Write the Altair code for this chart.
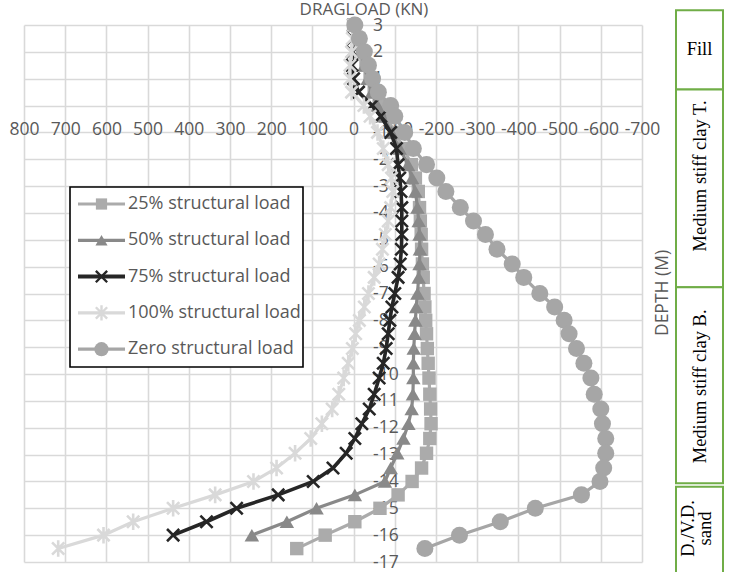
import altair as alt
import pandas as pd

# ---------------- data ----------------
depth = [3, 2.5, 2, 1.5, 1, 0.5, 0, -0.4, -1.0, -1.6, -2.2, -2.7, -3.2, -3.8, -4.3,
         -4.8, -5.35, -5.9, -6.4, -7.0, -7.5, -8.0, -8.5, -9.05, -9.6, -10.15,
         -10.75, -11.3, -11.85, -12.4, -12.95, -13.5, -14.0, -14.5, -15.0, -15.5,
         -16.0, -16.5]

load_25 = [0, -12, -22, -30, -40, -50, -62, -78, -100, -122, -140, -150, -157, -160,
           -162, -164, -165, -167, -169, -171, -173, -175, -177, -179, -181, -183,
           -185, -187, -188, -185, -177, -165, -142, -108, -64, -3, 69, 138]
load_50 = [0, -10, -18, -26, -34, -44, -58, -72, -92, -112, -132, -142, -150, -155,
           -158, -160, -161, -160, -158, -155, -152, -150, -148, -146, -145, -145,
           -144, -141, -133, -121, -106, -90, -76, -3, 90, 162, 247]
load_75 = [0, 1, 3, 4, 0, -12, -45, -66, -90, -104, -108, -112, -115, -117, -117,
           -117, -116, -113, -108, -100, -93, -88, -84, -79, -72, -62, -50, -38,
           -20, -3, 18, 50, 98, 183, 284, 357, 438]
load_100 = [0, 3, 5, 9, 9, 5, -25, -40, -58, -72, -84, -92, -95, -90, -84, -77, -70,
            -62, -50, -36, -26, -14, -5, 3, 13, 24, 36, 52, 77, 104, 142, 187, 243,
            336, 438, 535, 607, 717]
load_zero = [-3, -14, -26, -36, -46, -60, -90, -100, -124, -145, -177, -202, -224,
             -259, -291, -320, -348, -385, -413, -452, -488, -511, -523, -541, -559,
             -576, -584, -600, -604, -612, -612, -607, -598, -553, -441, -356, -257,
             -173]

series_names = ["25% structural load", "50% structural load", "75% structural load",
                "100% structural load", "Zero structural load"]
series_loads = [load_25, load_50, load_75, load_100, load_zero]

x_ticks = list(range(-700, 801, 100))
y_ticks = list(range(-17, 4))

layer_names = ["Fill", "Medium stiff clay T.", "Medium stiff clay B.", "D./V.D.\nsand"]
layer_top = [3.55, 0.6, -6.77, -14.2]
layer_bottom = [0.6, -6.77, -14.07, -17.5]
layer_label_depth = [2.1, -2.62, -10.46, -15.75]
layer_label_angle = [0, 270, 270, 270]

# ---------------- styles ----------------
X_PATH = "M-1,-1L1,1M-1,1L1,-1"
STAR_PATH = "M-1,-1L1,1M-1,1L1,-1M0,-1.35L0,1.35"
styles = [
    dict(color="#ababab", shape="square", filled=True, size=180, lw=3.2),
    dict(color="#898989", shape="triangle-up", filled=True, size=210, lw=3.2),
    dict(color="#262626", shape=X_PATH, filled=False, size=150, lw=3.6),
    dict(color="#d9d9d9", shape=STAR_PATH, filled=False, size=150, lw=3.2),
    dict(color="#a6a6a6", shape="circle", filled=True, size=290, lw=3.2),
]

W, H = 618, 537
GRID = "#d9d9d9"
TXT = "#595959"
FONT = "Open Sans"

xscale = alt.Scale(domain=[-700, 800], reverse=True, nice=False, zero=False)
yscale = alt.Scale(domain=[-17, 3], nice=False, zero=False)
x0_px = (800 - 0) / 1500 * W
y0_px = (3 - 0) / 20 * H

xaxis = alt.Axis(values=x_ticks, orient="bottom", offset=-(H - y0_px), labelPadding=15,
                 domain=False, ticks=False, grid=True, gridColor=GRID, gridWidth=1.6,
                 labelFont=FONT, labelFontSize=17.5, labelColor=TXT,
                 labelExpr="'' + datum.value", labelFlush=False, labelOverlap=False,
                 title=None)
yaxis = alt.Axis(values=y_ticks, orient="right", offset=-(W - x0_px), labelPadding=19,
                 labelAlign="left", labelBaseline="middle",
                 domain=False, ticks=False, grid=True, gridColor=GRID, gridWidth=1.6,
                 labelFont=FONT, labelFontSize=17.5, labelColor=TXT,
                 labelExpr="'' + datum.value", labelFlush=False, labelOverlap=False,
                 title=None)

rows = []
for name, loads in zip(series_names, series_loads):
    for i, v in enumerate(loads):
        rows.append({"series": name, "i": i, "depth": depth[i], "load": v})
df = pd.DataFrame(rows)

layers = []
for name, st in zip(series_names, styles):
    base = alt.Chart(df).transform_filter(alt.datum.series == name).encode(
        x=alt.X("load:Q", scale=xscale, axis=xaxis),
        y=alt.Y("depth:Q", scale=yscale, axis=yaxis),
        order=alt.Order("i:Q"),
    )
    line = base.mark_line(color=st["color"], strokeWidth=st["lw"])
    if st["filled"]:
        pts = base.mark_point(shape=st["shape"], filled=True, fill=st["color"],
                              strokeWidth=0, size=st["size"], opacity=1)
    else:
        pts = base.mark_point(shape=st["shape"], filled=False, stroke=st["color"],
                              strokeWidth=2.6, size=st["size"], opacity=1)
    layers += [line, pts]

# ---------------- legend (drawn) ----------------
one = pd.DataFrame({"k": [0]})
LX0, LX1, LY0, LY1 = 46, 279, 162, 342
layers.append(alt.Chart(one).mark_rect(fill="white", stroke="black", strokeWidth=1.6).encode(
    x=alt.value(LX0), x2=alt.value(LX1), y=alt.value(LY0), y2=alt.value(LY1)))
for k, (name, st) in enumerate(zip(series_names, styles)):
    ly = 179 + k * 36.3
    lw = 4 if k == 2 else st["lw"]
    layers.append(alt.Chart(one).mark_rule(color=st["color"], strokeWidth=lw).encode(
        x=alt.value(54), x2=alt.value(101), y=alt.value(ly)))
    if st["filled"]:
        mk = alt.Chart(one).mark_point(shape=st["shape"], filled=True, fill=st["color"],
                                       strokeWidth=0, size=st["size"] * 0.7, opacity=1)
    else:
        mk = alt.Chart(one).mark_point(shape=st["shape"], filled=False, stroke=st["color"],
                                       strokeWidth=2.4, size=st["size"] * 0.85, opacity=1)
    layers.append(mk.encode(x=alt.value(77.5), y=alt.value(ly)))
    layers.append(alt.Chart(pd.DataFrame({"t": [name]})).mark_text(
        align="left", baseline="middle", font=FONT, fontSize=18, color=TXT).encode(
        text="t:N", x=alt.value(104), y=alt.value(ly)))

# ---------------- titles ----------------
layers.append(alt.Chart(pd.DataFrame({"t": ["DRAGLOAD (KN)"]})).mark_text(
    align="center", baseline="middle", font=FONT, fontSize=17, color=TXT).encode(
    text="t:N", x=alt.value(340), y=alt.value(-15)))
layers.append(alt.Chart(pd.DataFrame({"t": ["DEPTH (M)"]})).mark_text(
    align="center", baseline="middle", font=FONT, fontSize=17.5, color=TXT, angle=270).encode(
    text="t:N", x=alt.value(639), y=alt.value(268)))

# ---------------- soil layers ----------------
soil = pd.DataFrame({"name": layer_names, "top": layer_top, "bottom": layer_bottom,
                     "ld": layer_label_depth, "ang": layer_label_angle})
layers.append(alt.Chart(soil).mark_rect(fill="white", stroke="#70ad47", strokeWidth=2).encode(
    x=alt.value(652), x2=alt.value(699),
    y=alt.Y("top:Q", scale=yscale, axis=yaxis), y2="bottom:Q"))
soil_text = dict(align="center", baseline="middle", font="Liberation Serif", fontSize=18.5,
                 color="black", lineBreak="\n", lineHeight=17)
layers.append(alt.Chart(soil).transform_filter(alt.datum.name != "D./V.D.\nsand").mark_text(
    **soil_text).encode(
    text="name:N", x=alt.value(675.5),
    y=alt.Y("ld:Q", scale=yscale, axis=yaxis),
    angle=alt.Angle("ang:Q", scale=None)))
layers.append(alt.Chart(soil).transform_filter(alt.datum.name == "D./V.D.\nsand").mark_text(
    **soil_text).encode(
    text="name:N", x=alt.value(664),
    y=alt.Y("ld:Q", scale=yscale, axis=yaxis),
    angle=alt.Angle("ang:Q", scale=None)))

chart = alt.layer(*layers).properties(
    width=W, height=H,
    autosize=alt.AutoSizeParams(type="none"),
    padding={"left": 24, "top": 25, "right": 87, "bottom": 10},
).configure_view(strokeWidth=0)

chart.save("out.html", embed_options={"renderer": "svg", "actions": False})
